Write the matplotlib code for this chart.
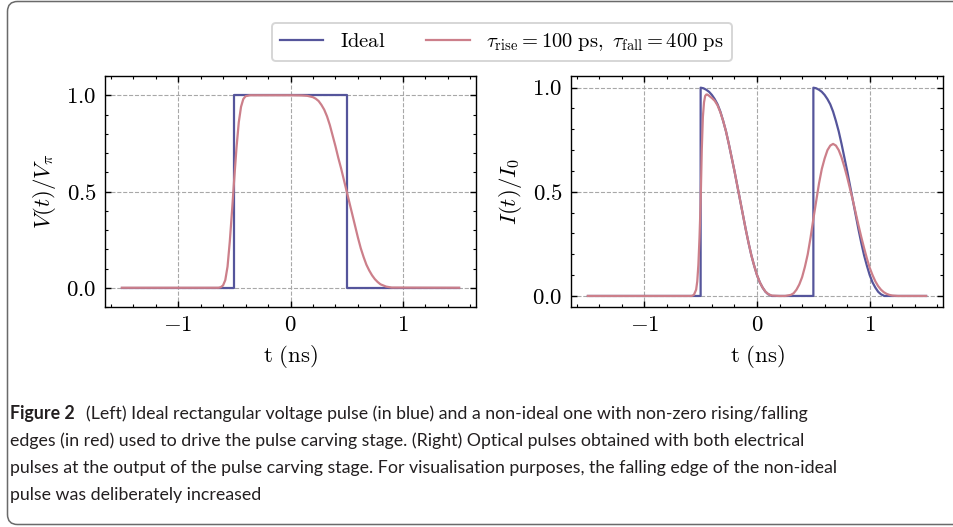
import matplotlib
matplotlib.use("Agg")
import matplotlib.pyplot as plt
from matplotlib.patches import PathPatch
from matplotlib.path import Path
from matplotlib.transforms import IdentityTransform
from matplotlib.ticker import MultipleLocator

# ---------------- data ----------------
# Left panel: normalised drive voltage V(t)/V_pi
t_v_ideal = [-1.5, -0.5, -0.5, 0.5, 0.5, 1.5]
v_ideal = [0.0, 0.0, 1.0, 1.0, 0.0, 0.0]

t_v_real = [-1.5, -0.64, -0.62, -0.60, -0.58, -0.56, -0.54, -0.52, -0.50, -0.48,
            -0.46, -0.44, -0.42, -0.40, -0.36, 0.0, 0.10, 0.15, 0.20, 0.225, 0.25,
            0.275, 0.30, 0.325, 0.35, 0.375, 0.40, 0.425, 0.45, 0.475, 0.50, 0.525,
            0.55, 0.575, 0.60, 0.625, 0.65, 0.675, 0.70, 0.725, 0.75, 0.775, 0.80,
            0.85, 0.90, 1.5]
v_real = [0.0, 0.0, 0.003, 0.012, 0.04, 0.11, 0.24, 0.40, 0.57, 0.73,
          0.86, 0.94, 0.98, 0.995, 1.0, 1.0, 0.999, 0.997, 0.99, 0.982, 0.97,
          0.95, 0.925, 0.89, 0.845, 0.79, 0.735, 0.675, 0.62, 0.56, 0.50, 0.44,
          0.38, 0.32, 0.26, 0.205, 0.16, 0.12, 0.09, 0.065, 0.045, 0.03, 0.018,
          0.006, 0.001, 0.0]

# Right panel: normalised optical intensity I(t)/I_0
t_i_ideal = [-1.5, -0.5, -0.5, -0.475, -0.45, -0.425, -0.40, -0.375, -0.35, -0.325,
             -0.30, -0.275, -0.25, -0.225, -0.20, -0.175, -0.15, -0.125, -0.10,
             -0.075, -0.05, -0.025, 0.0, 0.025, 0.05, 0.075, 0.10, 0.13,
             0.5, 0.5, 0.525, 0.55, 0.575, 0.60, 0.625, 0.65, 0.675, 0.70, 0.725,
             0.75, 0.775, 0.80, 0.825, 0.85, 0.875, 0.90, 0.925, 0.95, 0.975,
             1.0, 1.025, 1.05, 1.075, 1.10, 1.13, 1.5]
i_ideal = [0.0, 0.0, 1.0, 0.997, 0.99, 0.98, 0.965, 0.945, 0.92, 0.885,
           0.84, 0.79, 0.73, 0.665, 0.60, 0.53, 0.46, 0.39, 0.32,
           0.255, 0.195, 0.145, 0.10, 0.065, 0.04, 0.02, 0.008, 0.0,
           0.0, 1.0, 0.997, 0.99, 0.98, 0.965, 0.945, 0.92, 0.885, 0.84, 0.79,
           0.73, 0.665, 0.60, 0.53, 0.46, 0.39, 0.32, 0.255, 0.195, 0.145,
           0.10, 0.065, 0.04, 0.02, 0.008, 0.0, 0.0]

t_i_real = [-1.5, -0.58, -0.56, -0.54, -0.53, -0.52, -0.51, -0.50, -0.49, -0.48,
            -0.47, -0.46, -0.45, -0.44, -0.43, -0.40, -0.375, -0.35, -0.325,
            -0.30, -0.275, -0.25, -0.225, -0.20, -0.175, -0.15, -0.125, -0.10,
            -0.075, -0.05, -0.025, 0.0, 0.025, 0.05, 0.075, 0.10, 0.13, 0.20,
            0.25, 0.30, 0.325, 0.35, 0.375, 0.40, 0.425, 0.45, 0.475, 0.50,
            0.525, 0.55, 0.575, 0.60, 0.625, 0.65, 0.675, 0.70, 0.725, 0.75,
            0.775, 0.80, 0.825, 0.85, 0.875, 0.90, 0.925, 0.95, 0.975, 1.0,
            1.025, 1.05, 1.075, 1.10, 1.125, 1.15, 1.175, 1.20, 1.25, 1.5]
i_real = [0.0, 0.0, 0.005, 0.03, 0.07, 0.15, 0.28, 0.45, 0.70, 0.86,
          0.93, 0.96, 0.967, 0.967, 0.963, 0.95, 0.937, 0.915, 0.882,
          0.84, 0.79, 0.73, 0.665, 0.60, 0.53, 0.46, 0.39, 0.32,
          0.255, 0.195, 0.145, 0.10, 0.066, 0.04, 0.021, 0.009, 0.002, 0.0,
          0.0, 0.005, 0.013, 0.03, 0.055, 0.09, 0.14, 0.20, 0.28, 0.37,
          0.455, 0.54, 0.61, 0.66, 0.70, 0.722, 0.73, 0.722, 0.70, 0.665,
          0.62, 0.57, 0.515, 0.46, 0.40, 0.34, 0.283, 0.23, 0.18, 0.135,
          0.10, 0.07, 0.047, 0.03, 0.018, 0.01, 0.005, 0.002, 0.0, 0.0]

x_ticks = [-1, 0, 1]
y_ticks = [0.0, 0.5, 1.0]
label_ideal = r"$\mathrm{Ideal}$"
label_real = r"$\tau_{\mathrm{rise}} = 100\ \mathrm{ps},\ \tau_{\mathrm{fall}} = 400\ \mathrm{ps}$"
xlabel = r"$\mathrm{t\ (ns)}$"
ylabel_left = r"$V(t)/V_{\pi}$"
ylabel_right = r"$I(t)/I_{0}$"
caption_bold = "Figure 2"
caption_lines = [
    "(Left) Ideal rectangular voltage pulse (in blue) and a non-ideal one with non-zero rising/falling",
    "edges (in red) used to drive the pulse carving stage. (Right) Optical pulses obtained with both electrical",
    "pulses at the output of the pulse carving stage. For visualisation purposes, the falling edge of the non-ideal",
    "pulse was deliberately increased",
]

# ---------------- style ----------------
plt.rcParams.update({
    "font.family": "serif",
    "font.serif": ["cmr10", "DejaVu Serif"],
    "mathtext.fontset": "cm",
    "axes.formatter.use_mathtext": True,
    "axes.unicode_minus": True,
})

BLUE = "#55559b"
RED = "#cc7f8a"
W, H, DPI = 954, 527, 100
fig = plt.figure(figsize=(W / DPI, H / DPI), dpi=DPI)


def px_axes(x0, y0, x1, y1):
    return fig.add_axes([x0 / W, 1 - y1 / H, (x1 - x0) / W, (y1 - y0) / H])


axL = px_axes(105, 76, 476, 307)
axR = px_axes(571, 76, 943, 307)

axL.plot(t_v_ideal, v_ideal, color=BLUE, lw=1.6, label=label_ideal, zorder=3)
axL.plot(t_v_real, v_real, color=RED, lw=1.6, label=label_real, zorder=3)
axR.plot(t_i_ideal, i_ideal, color=BLUE, lw=1.6, zorder=3)
axR.plot(t_i_real, i_real, color=RED, lw=1.6, zorder=3)

axL.set_ylim(-0.1, 1.1)
axR.set_ylim(-0.053, 1.056)
for ax, yl in ((axL, ylabel_left), (axR, ylabel_right)):
    ax.set_xlim(-1.65, 1.65)
    ax.set_xticks(x_ticks)
    ax.set_yticks(y_ticks)
    ax.xaxis.set_minor_locator(MultipleLocator(0.2))
    ax.yaxis.set_minor_locator(MultipleLocator(0.1))
    ax.tick_params(which="both", direction="in", top=True, right=True, labelsize=16.5)
    ax.tick_params(which="major", length=4.5, width=1.0, pad=6)
    ax.tick_params(which="minor", length=2.4, width=0.8)
    ax.grid(True, which="major", ls="--", color="#a8a8a8", lw=0.8)
    for s in ax.spines.values():
        s.set_linewidth(1.0)
    ax.set_xlabel(xlabel, fontsize=16.5, labelpad=6)
    ax.set_ylabel(yl, fontsize=16.5, labelpad=6)

leg = fig.legend(loc="center", bbox_to_anchor=(0.526, 0.92), ncol=2, fontsize=14.8,
                 frameon=True, fancybox=True, edgecolor="#cccccc", handlelength=2.1,
                 columnspacing=2.0, borderpad=0.4)
leg.get_frame().set_linewidth(1.4)

# outer frame: open to the right, rounded corners on the left (pixel coords, y up)
xl, yt, yb, r, xr = 7.5, H - 1.5, H - 524.5, 10.0, W + 20
verts = [(xr, yt), (xl + r, yt), (xl, yt), (xl, yt - r), (xl, yb + r),
         (xl, yb), (xl + r, yb), (xr, yb)]
codes = [Path.MOVETO, Path.LINETO, Path.CURVE3, Path.CURVE3, Path.LINETO,
         Path.CURVE3, Path.CURVE3, Path.LINETO]
frame = PathPatch(Path(verts, codes), transform=IdentityTransform(),
                  facecolor="none", edgecolor="#6a6a6a", lw=1.1)
fig.add_artist(frame)

# caption
cap_fam = ["Lato", "DejaVu Sans"]
cap_col = "#231f20"
baselines = [419, 446, 473, 500]
t_bold = fig.text(10 / W, 1 - baselines[0] / H, caption_bold, fontsize=12, fontweight="bold",
                  family=cap_fam, va="baseline", ha="left", color=cap_col)
t_first = fig.text(89 / W, 1 - baselines[0] / H, caption_lines[0], fontsize=12,
                   family=cap_fam, va="baseline", ha="left", color=cap_col)
others = []
for yb_, line in zip(baselines[1:], caption_lines[1:]):
    others.append(fig.text(10 / W, 1 - yb_ / H, line, fontsize=12, family=cap_fam,
                           va="baseline", ha="left", color=cap_col))

# fit caption size so the longest line spans the same width as in the reference
renderer = fig.canvas.get_renderer()
w3 = others[1].get_window_extent(renderer).width
size = 12 * (837 - 10) / w3
for t in [t_bold, t_first] + others:
    t.set_fontsize(size)
wb = t_bold.get_window_extent(renderer).width
t_first.set_x((10 + wb + 11) / W)

fig.savefig("out.png", dpi=DPI)
